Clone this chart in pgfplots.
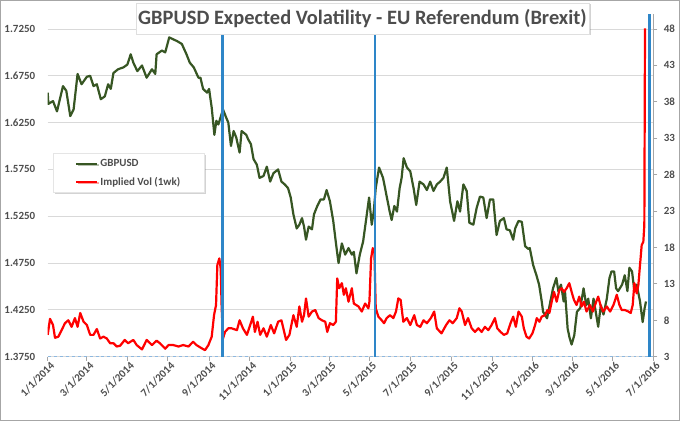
\documentclass[border=0pt]{standalone}
\usepackage{pgfplots}
\pgfplotsset{compat=1.18}
\usepackage{fontspec}
\setmainfont{Carlito}
\usetikzlibrary{shadows}
\definecolor{gbp}{HTML}{375623}
\definecolor{volred}{HTML}{FF0000}
\definecolor{evblue}{HTML}{2E86C8}
\definecolor{axblue}{HTML}{8DB8E0}
\definecolor{labelgray}{HTML}{4D4D4D}
\definecolor{gridgray}{HTML}{D9D9D9}
\definecolor{tickgray}{HTML}{A6A6A6}
\begin{document}
\begin{tikzpicture}
\path[use as bounding box] (0,0) rectangle (680bp,421bp);
\begin{axis}[
  at={(47.7bp,64.3bp)}, anchor=south west,
  scale only axis, width=605.6bp, height=342.7bp,
  xmin=0, xmax=912, ymin=1.375, ymax=1.74102,
  axis x line*=bottom, axis y line*=left,
  x axis line style={draw=axblue, dashed, line width=0.8bp},
  y axis line style={draw=none},
  xtick={0,59,120,181,243,304,365,424,485,546,608,669,730,790,851,912},
  xticklabels={1/1/2014,3/1/2014,5/1/2014,7/1/2014,9/1/2014,11/1/2014,1/1/2015,3/1/2015,5/1/2015,7/1/2015,9/1/2015,11/1/2015,1/1/2016,3/1/2016,5/1/2016,7/1/2016},
  ytick={1.375,1.425,1.475,1.525,1.575,1.625,1.675,1.725},
  yticklabels={1.3750,1.4250,1.4750,1.5250,1.5750,1.6250,1.6750,1.7250},
  ymajorgrids, grid style={draw=gridgray, line width=0.8bp},
  tick align=outside, major tick length=4bp,
  xtick style={draw=tickgray, line width=0.8bp},
  ytick style={draw=none},
  tick label style={font=\fontsize{11}{13}\selectfont\bfseries, text=labelgray},
  xticklabel style={rotate=45, anchor=east, inner sep=1bp, yshift=-6bp, xshift=2bp},
  yticklabel style={xshift=-5bp},
]
\addplot[gbp, line width=2.2bp, line join=round] coordinates {
(0,1.657) (1,1.645) (8,1.648) (14,1.637) (16,1.643) (23,1.664) (28,1.659) (34,1.632) (39,1.639)
(45,1.677) (51,1.666) (59,1.674) (64,1.675) (69,1.664) (74,1.666) (80,1.650) (86,1.653) (91,1.666)
(95,1.661) (99,1.678) (106,1.682) (114,1.684) (120,1.687) (125,1.698) (129,1.689) (135,1.680)
(142,1.686) (149,1.673) (157,1.682) (162,1.677) (164,1.698) (172,1.702) (177,1.700) (183,1.716)
(189,1.714) (195,1.712) (202,1.709) (209,1.698) (214,1.689) (220,1.684) (227,1.673) (230,1.673)
(234,1.661) (240,1.657) (243,1.661) (247,1.641) (251,1.612) (254,1.627) (257,1.623) (264,1.639)
(269,1.630) (272,1.625) (276,1.600) (280,1.616) (284,1.609) (289,1.593) (292,1.616) (299,1.612)
(302,1.607) (306,1.602) (310,1.586) (315,1.580) (319,1.566) (325,1.568) (330,1.578) (335,1.562)
(340,1.571) (347,1.575) (352,1.562) (357,1.559) (362,1.555) (366,1.545) (370,1.527) (375,1.512)
(379,1.516) (383,1.523) (386,1.514) (389,1.500) (393,1.514) (398,1.511) (401,1.527) (406,1.536)
(411,1.543) (416,1.543) (420,1.553) (425,1.541) (430,1.520) (435,1.491) (438,1.475) (443,1.496)
(448,1.484) (453,1.491) (458,1.484) (461,1.487) (465,1.464) (470,1.484) (475,1.498) (480,1.524)
(484,1.545) (488,1.516) (491,1.530) (494,1.555) (499,1.577) (505,1.566) (510,1.548) (515,1.530)
(518,1.521) (522,1.536) (526,1.530) (530,1.555) (533,1.566) (536,1.587) (541,1.577) (546,1.573)
(551,1.555) (555,1.537) (560,1.562) (566,1.559) (571,1.553) (576,1.562) (581,1.552) (586,1.559)
(591,1.562) (596,1.566) (601,1.577) (606,1.541) (612,1.520) (617,1.541) (621,1.530) (626,1.559)
(631,1.552) (635,1.518) (641,1.516) (646,1.534) (651,1.546) (656,1.545) (661,1.523) (666,1.543)
(671,1.543) (676,1.505) (681,1.520) (687,1.523) (691,1.511) (696,1.510) (701,1.500) (704,1.512)
(709,1.520) (714,1.519) (719,1.493) (724,1.490) (726,1.491) (731,1.473) (736,1.462) (740,1.452)
(744,1.434) (746,1.423) (752,1.416) (757,1.434) (761,1.448) (766,1.459) (769,1.445) (773,1.452)
(777,1.434) (779,1.445) (783,1.405) (786,1.395) (789,1.388) (793,1.398) (797,1.423) (802,1.427)
(807,1.448) (811,1.430) (814,1.437) (818,1.416) (822,1.437) (826,1.420) (829,1.407) (833,1.430)
(837,1.420) (842,1.437) (846,1.459) (849,1.466) (853,1.466) (856,1.448) (859,1.445) (865,1.452)
(869,1.462) (873,1.445) (876,1.470) (880,1.466) (883,1.448) (887,1.452) (892,1.434) (896,1.412)
(899,1.427) (901,1.434)
};
\end{axis}
\begin{axis}[
  at={(47.7bp,64.3bp)}, anchor=south west,
  scale only axis, width=605.6bp, height=342.7bp,
  xmin=0, xmax=912, ymin=3, ymax=50.06,
  axis y line*=right, axis x line=none,
  y axis line style={draw=tickgray, line width=0.8bp},
  ytick={3,8,13,18,23,28,33,38,43,48},
  yticklabels={3,8,13,18,23,28,33,38,43,48},
  tick align=outside, major tick length=4bp,
  ytick style={draw=tickgray, line width=0.8bp},
  tick label style={font=\fontsize{11}{13}\selectfont\bfseries, text=labelgray},
  yticklabel style={xshift=3bp},
  legend style={at={(0.0088,0.594)}, anchor=north west, fill=white, draw=gray!20,
    drop shadow={shadow xshift=1.5bp, shadow yshift=-1.5bp, opacity=0.35},
    inner xsep=22bp, inner ysep=4bp, row sep=5bp,
    font=\fontsize{11}{13}\selectfont\bfseries, text=labelgray, cells={anchor=west}},
  legend image code/.code={\draw[#1] (0bp,0bp) -- (21bp,0bp);},
]
\addlegendimage{gbp, line width=2.2bp}
\addlegendentry{GBPUSD}
\addplot[volred, line width=2.2bp, line join=round] coordinates {
(0,6.0) (3.5,8.2) (8,7.35) (11,5.6) (16,5.75) (21,6.65) (26,7.6) (31,8.0) (36,7.1) (41,8.3) (45,7.1)
(49,9.0) (54,7.8) (59,7.35) (64,6.0) (69,6.0) (74,6.8) (79,5.5) (84,5.75) (89,5.5) (94,4.85) (99,4.85)
(104,4.4) (109,4.5) (116,5.3) (121,4.85) (129,5.3) (134,4.6) (142,4.0) (149,5.3) (157,4.6) (164,5.2)
(169,4.85) (177,4.1) (182,4.6) (189,4.6) (197,4.4) (204,4.6) (212,4.4) (219,5.05) (224,4.6) (232,4.15)
(237,3.9) (242,4.6) (247,5.75) (250.5,8.7) (253.5,10.1) (255.5,15.6) (258.5,16.5) (260.5,15.1)
(262,9.65) (264,5.5) (267,6.4) (272,6.9) (277,6.9) (285,6.65) (289,8.0) (294,6.9) (300,6.0) (305,7.35)
(309,8.5) (312,6.4) (316,7.8) (320,6.0) (325,6.9) (330,5.75) (336,7.35) (341,6.2) (347,7.8) (352,8.0)
(359,5.3) (364,6.0) (370,8.7) (375,7.1) (379,9.9) (383,7.8) (386,8.7) (389,11.0) (393,8.5) (398,9.2)
(403,9.4) (408,8.3) (413,8.0) (418,7.8) (421,6.4) (425,7.6) (430,7.35) (434,7.8) (436,13.75) (439,12.4)
(443,13.1) (446,11.5) (449,12.4) (453,10.55) (458,12.4) (461,10.3) (468,9.9) (473,9.2) (478,10.3)
(483,9.65) (484.5,10.55) (487,16.5) (489.5,17.9) (492,17.4) (494,9.65) (498,8.5) (503,8.0) (506.5,7.6)
(510.5,8.3) (515.5,8.7) (520.5,8.3) (524.5,9.2) (528,11.0) (531.5,10.8) (535.5,7.8) (541,8.3) (546,7.35)
(552,8.7) (556,7.35) (561,7.1) (566,8.0) (571,7.6) (577,8.3) (582,9.2) (586,6.9) (593,6.2) (600,7.35)
(605,8.0) (610,7.6) (616,8.3) (620,9.65) (623.5,9.2) (628.5,7.35) (633,8.3) (638.5,6.9) (643.5,6.4)
(648.5,6.9) (653.5,6.4) (658.5,7.1) (663.5,6.65) (668.5,7.35) (673.5,8.3) (677,6.9) (682,6.4) (687,6.0)
(692,6.2) (697,7.6) (701,8.5) (705,7.1) (709,9.2) (714,8.5) (717,6.9) (721,5.75) (725,5.5) (730,6.2)
(734,7.35) (736.5,8.3) (740.5,7.8) (744,8.5) (749,8.7) (752.5,9.4) (755.5,9.0) (759,10.55) (762.5,11.9)
(766.5,10.55) (770.5,12.15) (774,12.4) (777.5,11.9) (781.5,12.4) (785.5,13.1) (789,11.9) (792.5,10.8)
(796.5,10.1) (800.5,11.25) (804,9.9) (807.5,10.55) (811.5,9.2) (816.5,10.1) (821,9.2) (826,10.55)
(829,11.25) (833,9.9) (836.5,9.2) (842,9.9) (847,9.2) (852,10.1) (857,11.5) (861,10.1) (864.5,9.4)
(869.5,9.4) (874.5,9.2) (878,9.0) (881,10.1) (883.5,13.1) (887,11.7) (889.5,12.85) (892,15.6)
(894.5,18.3) (897,18.8) (898.5,21.1) (899.5,48.1)
};
\addlegendentry{Implied Vol (1wk)}
\addplot[evblue, line width=2.6bp, forget plot] coordinates {(263,3) (263,50.06)};
\addplot[evblue, line width=2.6bp, forget plot] coordinates {(493,3) (493,50.06)};
\addplot[evblue, line width=2.6bp, forget plot] coordinates {(906,3) (906,50.06)};
\end{axis}
\node[fill=white, draw=gray!25, drop shadow={shadow xshift=1.5bp, shadow yshift=-1.5bp, opacity=0.35},
  minimum width=453bp, minimum height=31bp, inner sep=0pt, text=labelgray,
  font=\fontsize{20.5}{24}\selectfont\bfseries] at (362.5bp,402.5bp)
  {GBPUSD Expected Volatility - EU Referendum (Brexit)};
\draw[gray!70, line width=0.8bp] (0.4bp,0.4bp) rectangle (679.6bp,420.6bp);
\end{tikzpicture}
\end{document}
